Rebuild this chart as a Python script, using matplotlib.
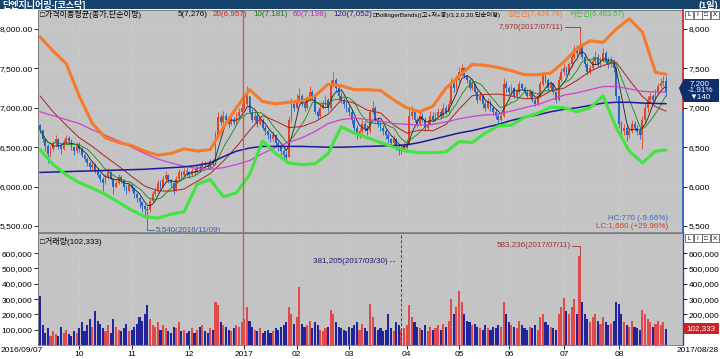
import numpy as np
import pandas as pd
import matplotlib
matplotlib.use('Agg')
import matplotlib.pyplot as plt
from matplotlib.patches import Rectangle, Polygon

plt.rcParams['font.family'] = ['Liberation Sans', 'Noto Sans CJK KR', 'DejaVu Sans']

# --- 거래일 (2016/09/07 ~ 2017/08/28) ---
holidays = ['2016-09-14', '2016-09-15', '2016-09-16', '2016-10-03', '2016-12-30',
            '2017-01-27', '2017-01-30', '2017-03-01', '2017-05-01', '2017-05-03',
            '2017-05-05', '2017-05-09', '2017-06-06', '2017-08-15']
days = pd.bdate_range('2016-09-07', '2017-08-28')
days = days[~days.isin(pd.to_datetime(holidays))]

# --- 일봉 (종가 / 고가 / 저가) ---
first_open = 6780
close = [
    6720, 6600, 6520, 6420, 6480, 6550, 6600, 6520, 6480, 6560, 6620, 6580, 6500, 6450, 6520,
    6480, 6400, 6350, 6300, 6250, 6280, 6200, 6150, 6100, 6050, 6120, 6180, 6100, 6000, 6050, 6120, 6080, 6000, 5950, 6020,
    5980, 5900, 5850, 5800, 5750, 5720, 5700, 5820, 5900, 5950, 6050, 6000, 6100, 6150, 6080, 6050, 5950, 6100, 6180, 6150, 6200, 6180,
    6150, 6200, 6180, 6250, 6220, 6300, 6280, 6250, 6320, 6300, 6650, 6880, 6820, 6900, 6850, 6800, 6850, 6820, 6900, 6950, 7000,
    7050, 7150, 6950, 6850, 6900, 6800, 6850, 6750, 6700, 6650, 6600, 6650, 6550, 6500, 6450, 6400, 6380, 6850, 7050, 7000,
    7100, 7150, 7050, 7000, 7100, 7200, 7150, 6950, 6900, 7000, 7050, 7100, 7000, 7300, 7350, 7250, 7150, 7100, 7050, 7000,
    6950, 6850, 6750, 6650, 6700, 6800, 6750, 6700, 6950, 7000, 6850, 6800, 6750, 6700, 6650, 6600, 6550, 6600, 6500, 6450, 6480, 6520,
    6550, 6900, 6950, 6850, 6800, 6900, 6850, 6750, 6800, 6900, 6850, 6900, 6950, 6900, 7000, 6950, 7050, 7300, 7250, 7350,
    7450, 7500, 7400, 7350, 7250, 7300, 7200, 7100, 7150, 7050, 7000, 7080, 7000, 6950, 6900, 6850, 6900, 7300, 7250,
    7200, 7250, 7150, 7200, 7300, 7250, 7200, 7150, 7200, 7100, 7050, 7150, 7300, 7400, 7350, 7250, 7300, 7200, 7100, 7350, 7450,
    7500, 7450, 7550, 7650, 7750, 7700, 7800, 7650, 7550, 7450, 7500, 7600, 7650, 7550, 7600, 7700, 7600, 7550, 7600, 7500, 7150,
    6800, 6700, 6750, 6650, 6700, 6800, 6750, 6700, 6650, 6850, 7000, 7100, 7150, 7100, 7200, 7280, 7320, 7340, 7200,
]
high = [
    6800, 6720, 6620, 6540, 6520, 6580, 6650, 6620, 6540, 6600, 6660, 6640, 6600, 6520, 6560,
    6560, 6500, 6420, 6380, 6320, 6330, 6300, 6230, 6170, 6120, 6160, 6230, 6200, 6120, 6080, 6160, 6150, 6100, 6020, 6060,
    6050, 5990, 5930, 5880, 5820, 5780, 5760, 5860, 5950, 6000, 6080, 6080, 6130, 6200, 6160, 6100, 6060, 6140, 6220, 6200, 6240, 6230,
    6200, 6240, 6240, 6280, 6280, 6330, 6330, 6300, 6350, 6350, 6700, 6950, 6920, 6960, 6930, 6880, 6890, 6880, 6950, 7000, 7060,
    7120, 7280, 7150, 6980, 6950, 6920, 6900, 6870, 6780, 6720, 6680, 6700, 6670, 6580, 6530, 6480, 6450, 6900, 7120, 7100,
    7180, 7250, 7180, 7080, 7150, 7280, 7230, 7160, 6980, 7050, 7100, 7160, 7120, 7350, 7450, 7380, 7280, 7200, 7130, 7080,
    7040, 6980, 6880, 6780, 6750, 6850, 6830, 6780, 6980, 7080, 7020, 6880, 6830, 6780, 6730, 6680, 6620, 6650, 6620, 6530, 6520, 6560,
    6600, 6980, 7020, 6980, 6880, 6950, 6930, 6880, 6850, 6960, 6950, 6950, 7000, 6990, 7060, 7040, 7100, 7380, 7340, 7420,
    7520, 7560, 7520, 7420, 7380, 7340, 7320, 7230, 7200, 7160, 7080, 7120, 7100, 7020, 6980, 6930, 6950, 7380, 7340,
    7280, 7300, 7260, 7240, 7340, 7320, 7280, 7220, 7240, 7220, 7130, 7180, 7340, 7450, 7430, 7380, 7340, 7320, 7210, 7400, 7500,
    7560, 7530, 7580, 7700, 7800, 7800, 7970, 7820, 7680, 7580, 7540, 7660, 7720, 7680, 7640, 7760, 7720, 7640, 7660, 7620, 7520,
    7150, 6830, 6800, 6780, 6740, 6850, 6830, 6780, 6740, 6900, 7060, 7150, 7200, 7180, 7240, 7320, 7380, 7400, 7400,
]
low = [
    6680, 6560, 6450, 6300, 6380, 6450, 6520, 6480, 6420, 6460, 6540, 6540, 6460, 6400, 6430,
    6440, 6380, 6320, 6260, 6200, 6220, 6170, 6120, 6060, 5950, 6030, 6100, 6080, 5900, 5980, 6030, 6040, 5960, 5900, 5930,
    5940, 5860, 5800, 5730, 5680, 5640, 5540, 5680, 5800, 5880, 5930, 5960, 5990, 6060, 6050, 6000, 5900, 5940, 6090, 6110, 6140, 6140,
    6110, 6130, 6150, 6170, 6180, 6220, 6240, 6220, 6240, 6270, 6280, 6620, 6780, 6800, 6820, 6760, 6780, 6780, 6800, 6880, 6930,
    6980, 7020, 6920, 6820, 6820, 6760, 6780, 6720, 6650, 6600, 6560, 6580, 6520, 6450, 6400, 6350, 6300, 6370, 6820, 6960,
    6980, 7060, 7020, 6960, 6980, 7080, 7100, 6920, 6860, 6880, 6980, 7020, 6960, 6980, 7260, 7200, 7100, 7060, 7000, 6950,
    6900, 6800, 6700, 6600, 6620, 6680, 6700, 6650, 6680, 6920, 6820, 6760, 6700, 6650, 6600, 6550, 6500, 6520, 6460, 6400, 6420, 6450,
    6480, 6530, 6860, 6820, 6760, 6780, 6820, 6700, 6720, 6780, 6820, 6830, 6880, 6860, 6880, 6920, 6920, 7030, 7200, 7220,
    7330, 7400, 7380, 7320, 7220, 7220, 7180, 7060, 7080, 7000, 6960, 6980, 6960, 6910, 6860, 6800, 6830, 6880, 7200,
    7160, 7180, 7120, 7130, 7180, 7220, 7170, 7120, 7130, 7070, 7020, 7030, 7140, 7280, 7320, 7220, 7230, 7180, 7060, 7080, 7330,
    7420, 7420, 7420, 7520, 7620, 7650, 7680, 7620, 7520, 7420, 7430, 7480, 7560, 7520, 7520, 7580, 7560, 7500, 7520, 7460, 7100,
    6750, 6620, 6660, 6580, 6620, 6680, 6700, 6650, 6600, 6480, 6820, 6950, 7060, 7050, 7080, 7180, 7250, 7280, 7150,
]
# 거래량 (천주)
volume_k = [
    320, 130, 80, 110, 60, 90, 70, 60, 120, 80, 100, 70, 60, 90, 80,
    110, 150, 90, 130, 170, 120, 220, 160, 140, 110, 90, 130, 80, 170, 120, 100, 90, 110, 140, 90,
    100, 120, 140, 180, 160, 200, 260, 170, 130, 120, 150, 100, 130, 110, 90, 80, 120, 110, 150, 90, 100, 80,
    90, 110, 80, 100, 120, 130, 90, 80, 110, 100, 280, 260, 150, 130, 120, 100, 90, 110, 130, 120, 150,
    170, 250, 160, 120, 100, 90, 110, 80, 90, 100, 80, 90, 110, 100, 120, 130, 150, 250, 200, 140,
    180, 381, 140, 120, 130, 160, 110, 150, 130, 100, 90, 110, 120, 230, 200, 150, 120, 110, 100, 90,
    120, 110, 130, 150, 100, 140, 110, 90, 270, 180, 120, 100, 110, 90, 100, 200, 110, 90, 150, 130, 100, 110,
    130, 260, 180, 150, 120, 110, 100, 130, 90, 120, 100, 110, 130, 100, 140, 120, 160, 300, 200, 250,
    350, 280, 200, 160, 150, 130, 140, 120, 110, 100, 130, 110, 100, 120, 110, 130, 120, 280, 200,
    150, 130, 120, 110, 160, 130, 110, 100, 120, 110, 130, 100, 180, 200, 150, 130, 120, 110, 100, 200, 250,
    310, 220, 200, 250, 300, 200, 583.236, 280, 200, 170, 150, 180, 200, 160, 140, 180, 150, 130, 140, 160, 280,
    270, 200, 150, 130, 120, 160, 120, 110, 100, 230, 200, 170, 150, 120, 140, 160, 130, 150, 102.333,
]

# --- 지표선 (5거래일 간격으로 읽은 값) ---
smp_day = list(range(0, 236, 5)) + [239]
ma20 = [7150, 6950, 6780, 6620, 6510, 6380, 6260, 6130, 6007, 5946, 5943, 5970, 6067, 6165, 6323, 6505,
        6712, 6901, 6831, 6749, 6762, 6824, 6919, 7098, 7060, 6970, 6935, 6783, 6678, 6718, 6708, 6788,
        6983, 7153, 7170, 7174, 7149, 7114, 7122, 7213, 7248, 7348, 7463, 7538, 7578, 7353, 7143, 7015, 6957]
ma60 = [6950, 6900, 6850, 6800, 6720, 6650, 6580, 6500, 6420, 6350, 6300, 6260, 6230, 6220, 6240, 6280,
        6330, 6420, 6500, 6560, 6620, 6700, 6800, 6850, 6870, 6850, 6830, 6800, 6790, 6780, 6790, 6820,
        6860, 6890, 6910, 6920, 6960, 7000, 7040, 7100, 7160, 7190, 7230, 7270, 7270, 7240, 7210, 7200, 7198]
ma120 = [6180, 6185, 6190, 6195, 6200, 6205, 6210, 6215, 6220, 6230, 6240, 6250, 6270, 6300, 6380, 6450,
         6490, 6510, 6510, 6510, 6510, 6505, 6500, 6500, 6505, 6510, 6515, 6520, 6530, 6560, 6600, 6640,
         6680, 6710, 6750, 6790, 6840, 6880, 6910, 6950, 6980, 7000, 7030, 7060, 7070, 7070, 7060, 7055, 7052]
bb_up = [7900, 7720, 7560, 7150, 6800, 6620, 6560, 6520, 6450, 6400, 6420, 6480, 6450, 6470, 6750, 7000,
         7230, 7080, 7050, 7070, 7090, 7150, 7300, 7280, 7230, 7230, 7220, 7100, 7000, 6950, 7020, 7250,
         7400, 7550, 7540, 7510, 7470, 7420, 7420, 7440, 7580, 7750, 7850, 7830, 8000, 8130, 7960, 7450, 7425]
bb_lo = [6470, 6280, 6150, 6050, 5980, 5900, 5800, 5700, 5620, 5600, 5650, 5680, 6030, 6090, 5870, 5920,
         6150, 6580, 6420, 6300, 6280, 6290, 6420, 6760, 6680, 6620, 6560, 6500, 6450, 6430, 6430, 6440,
         6570, 6560, 6680, 6770, 6780, 6880, 6930, 7010, 7000, 6950, 7000, 7150, 6750, 6450, 6300, 6450, 6464]

month_labels = ['10', '11', '12', '2017', '02', '03', '04', '05', '06', '07', '08']

# --- 색 ---
UP, DN = '#e8431f', '#2266cc'
VUP, VDN = '#e04a4a', '#23239b'
BG = '#c4c4c4'

W, H = 720, 359
def fx(x): return x / W
def fy(y): return 1 - y / H

fig = plt.figure(figsize=(7.2, 3.59), dpi=100)
fig.patch.set_facecolor('white')

ax = fig.add_axes([fx(38), fy(232), fx(683) - fx(38), fy(10) - fy(232)])
axv = fig.add_axes([fx(38), fy(345), fx(683) - fx(38), fy(233) - fy(345)], sharex=ax)

x = np.arange(len(close))
c = np.array(close, float)
o = np.r_[first_open, c[:-1]]
hi = np.maximum(np.array(high, float), np.maximum(o, c))
lo = np.minimum(np.array(low, float), np.minimum(o, c))
up = c >= o
col = np.where(up, UP, DN)

for a in (ax, axv):
    a.set_facecolor(BG)
    for s in a.spines.values():
        s.set_color('#707070')
        s.set_linewidth(0.6)
    a.tick_params(labelsize=6, length=3, width=0.6, pad=1, colors='black')

ax.set_xlim(-0.76, 245.5)
ax.set_ylim(5424, 8241)
axv.set_ylim(0, 732000)

# 그리드
for v in range(5500, 8001, 500):
    ax.axhline(v, color='#d6d6d6', lw=0.5, ls=':', zorder=0)
month_idx = [i for i in range(1, len(days)) if days[i].month != days[i - 1].month]
for m in month_idx:
    ax.axvline(m, color='#d6d6d6', lw=0.5, ls=':', zorder=0)
    axv.axvline(m, color='#d6d6d6', lw=0.5, ls=':', zorder=0)

# 캔들
ax.vlines(x, lo, hi, colors=col, lw=0.6, zorder=2)
ax.bar(x, np.maximum(np.abs(c - o), 8), bottom=np.minimum(o, c), width=0.7,
       color=col, lw=0, zorder=3)

# 이동평균
s5 = pd.Series(c).rolling(5, min_periods=1).mean()
s10 = pd.Series(c).rolling(10, min_periods=1).mean()
ax.plot(x, s5, color='#202020', lw=0.6, zorder=4)
ax.plot(x, s10, color='#128a12', lw=0.6, zorder=4)
ax.plot(smp_day, ma20, color='#b02020', lw=0.7, zorder=4)
ax.plot(smp_day, ma60, color='#d040d0', lw=0.9, zorder=4)
ax.plot(smp_day, ma120, color='#1a1a9a', lw=1.1, zorder=4)
# 볼린저밴드
ax.plot(smp_day, bb_up, color='#f57a2a', lw=2.2, zorder=5, solid_capstyle='round')
ax.plot(smp_day, bb_lo, color='#3ee63e', lw=2.2, zorder=5, solid_capstyle='round')

# 연도 구분선
for a in (ax, axv):
    a.axvline(77.5, color='#d05858', lw=1.0, zorder=6)

# 거래량
vol = np.array(volume_k) * 1000
axv.bar(x, vol, width=0.8, color=np.where(up, VUP, VDN), lw=0, zorder=2)
axv.axvline(138, color='#2a3a9a', lw=0.7, ls=(0, (3, 2)), zorder=6)

# 축 눈금
ax.set_yticks(range(5500, 8001, 500))
ax.set_yticklabels([f'{v:,}.00' for v in range(5500, 8001, 500)])
axv.set_yticks(range(100000, 600001, 100000))
axv.set_yticklabels([f'{v:,}' for v in range(100000, 600001, 100000)])
ax.tick_params(axis='x', bottom=False, labelbottom=False)
axv.set_xticks(month_idx)
axv.set_xticklabels(month_labels)

ax2 = ax.twinx()
ax2.set_ylim(ax.get_ylim())
ax2.set_yticks(range(5500, 8001, 500))
ax2.set_yticklabels([f'{v:,}' for v in range(5500, 8001, 500)])
axv2 = axv.twinx()
axv2.set_ylim(axv.get_ylim())
axv2.set_yticks(range(200000, 600001, 100000))
axv2.set_yticklabels([f'{v:,}' for v in range(200000, 600001, 100000)])
for a in (ax2, axv2):
    a.tick_params(labelsize=6, length=3, width=0.6, pad=1)
    for s in a.spines.values():
        s.set_visible(False)

# 오른쪽 축선 (현재가 위 빨강 / 아래 파랑)
ax.plot([1, 1], [0, 0.55], transform=ax.transAxes, color='#2266cc', lw=1.2, clip_on=False, zorder=7)
ax.plot([1, 1], [0.55, 1], transform=ax.transAxes, color='#d03030', lw=1.2, clip_on=False, zorder=7)
axv.plot([1, 1], [0, 1], transform=axv.transAxes, color='#2a4aa0', lw=1.0, clip_on=False, zorder=7)

# 제목줄
fig.patches.append(Rectangle((0, fy(9)), 1, fy(0) - fy(9), transform=fig.transFigure,
                             facecolor='#17436f', edgecolor='none'))
fig.text(fx(2), fy(4.5), '단엔지니어링-[코스닥]', color='white', fontsize=6.5, fontweight='bold', va='center')
fig.text(fx(718), fy(4.5), '(1일)', color='white', fontsize=6.5, fontweight='bold', va='center', ha='right')

# 범례
legend_parts = [
    (40, '□가격이동평균(종가,단순이평)', '#000000', 5.8),
    (178, '5(7,276)', '#000000', 5.8),
    (213, '20(6,957)', '#d02020', 5.8),
    (253, '10(7,181)', '#108010', 5.8),
    (293, '60(7,198)', '#c020c0', 5.8),
    (333, '120(7,052)', '#1a1a9a', 5.8),
    (373, '□BollingerBands((고+저+종)/3,2,0,20,단순이평)', '#000000', 4.5),
    (508, '상한선(7,424.76)', '#f07830', 5.4),
    (570, '하한선(6,463.57)', '#30c030', 5.4),
]
for px, txt, cc, fs in legend_parts:
    fig.text(fx(px), fy(14.5), txt, color=cc, fontsize=fs, va='center')
fig.text(fx(40), fy(241), '□거래량(102,333)', color='#000000', fontsize=5.8, va='center')

# 최저/최고 표시
lo_i = int(np.argmin(lo))
hi_i = int(np.argmax(hi))
ax.plot([lo_i, lo_i, lo_i + 2.5], [lo[lo_i], 5449, 5449], color='#3a5fa8', lw=0.6, zorder=8)
ax.text(lo_i + 3, 5449, f'{int(lo[lo_i]):,}({days[lo_i]:%Y/%m/%d})', color='#3a5fa8',
        fontsize=5.8, va='center')
ax.plot([hi_i - 5.5, hi_i, hi_i], [8025, 8025, hi[hi_i]], color='#a03030', lw=0.6, zorder=8)
ax.text(hi_i - 6, 8025, f'{int(hi[hi_i]):,}({days[hi_i]:%Y/%m/%d})', color='#a03030',
        fontsize=5.8, va='center', ha='right')

vi = int(np.argmax(vol))
axv.plot([vi - 3, vi, vi], [650000, 650000, vol[vi]], color='#a03030', lw=0.6, zorder=8)
axv.text(vi - 3.5, 650000, f'{int(round(vol[vi])):,}({days[vi]:%Y/%m/%d})', color='#a03030',
         fontsize=5.8, va='center', ha='right')
axv.text(135.5, 545000, '381,205(2017/03/30) --', color='#1a1a6a', fontsize=5.8, va='center', ha='right')

fig.text(fx(668), fy(218), 'HC:770 (-9.66%)', color='#3a6ab8', fontsize=5.8, va='center', ha='right')
fig.text(fx(668), fy(227), 'LC:1,660 (+29.96%)', color='#d04020', fontsize=5.8, va='center', ha='right')

# 현재가 박스
fig.patches.append(Polygon([(fx(679), fy(88)), (fx(684), fy(79)), (fx(719), fy(79)),
                            (fx(719), fy(102)), (fx(684), fy(102))], closed=True,
                           transform=fig.transFigure, facecolor='#0d2d6b', edgecolor='none', zorder=10))
for yy, t in [(83.5, '7,200'), (90.5, '-1.91%'), (97.5, '▼140')]:
    fig.text(fx(700), fy(yy), t, color='white', fontsize=5.8, va='center', ha='center',
             family=['Liberation Sans', 'DejaVu Sans'], zorder=11)
fig.patches.append(Rectangle((fx(684), fy(334)), fx(35), fy(0) - fy(11), transform=fig.transFigure,
                             facecolor='#cc2222', edgecolor='none', zorder=10))
fig.text(fx(701), fy(328.5), '102,333', color='white', fontsize=5.8, va='center', ha='center', zorder=11)

# 창 버튼
for yb in (11, 234):
    for k, t in enumerate(['L', 'I', '□', 'X']):
        x0 = 685 + k * 8.5
        fig.patches.append(Rectangle((fx(x0), fy(yb + 8)), fx(8), fy(0) - fy(8),
                                     transform=fig.transFigure, facecolor='white',
                                     edgecolor='#404040', lw=0.5, zorder=10))
        fig.text(fx(x0 + 4), fy(yb + 4), t, fontsize=4.5, ha='center', va='center', zorder=11)

# 양 끝 날짜
fig.text(fx(1), fy(351), f'{days[0]:%Y/%m/%d}', fontsize=6, va='center')
fig.text(fx(719), fy(351), f'{days[-1]:%Y/%m/%d}', fontsize=6, va='center', ha='right')

fig.savefig('out.png', dpi=100)
